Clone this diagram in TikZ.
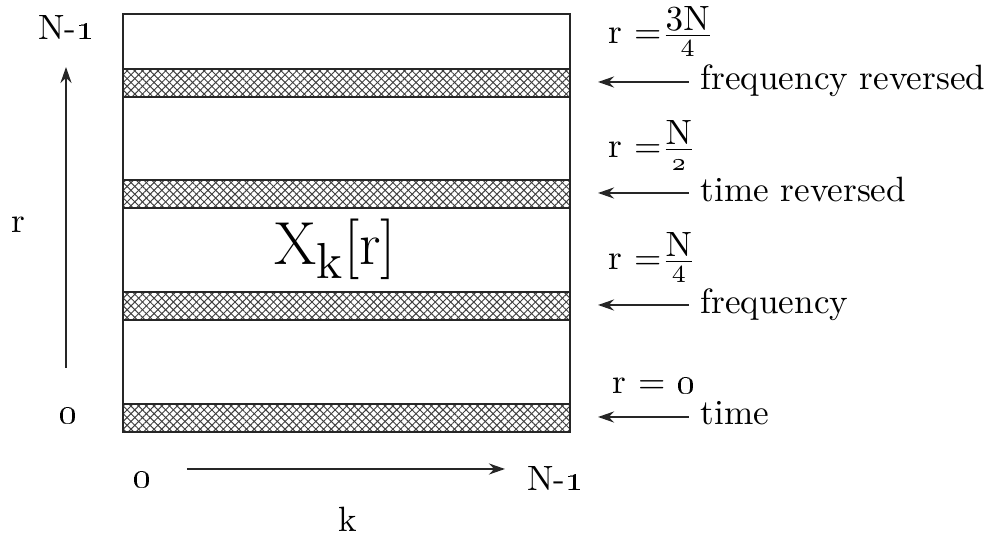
\documentclass[tikz,border=0pt]{standalone}
\usepackage{amsmath}
\usepackage{tikz}
\usetikzlibrary{arrows.meta, positioning, patterns.meta}
\tikzset{
  band/.style  ={draw=black!85, line width=0.7pt},
  hatchne/.style={pattern={Lines[angle=45, distance=1.55pt, line width=0.28pt]},
                  pattern color=black!75},
  hatchnw/.style={pattern={Lines[angle=-45, distance=1.55pt, line width=0.28pt]},
                  pattern color=black!75},
  arrow/.style ={-{Stealth[length=1.6mm, width=1.1mm]}, line width=0.7pt, black!85},
  lbl/.style   ={font=\normalsize, inner sep=0pt, text=black}
}
\newcommand{\osn}[1]{\oldstylenums{#1}}

\begin{document}
\begin{tikzpicture}[
  every node/.style={text=black},
  rlbl/.style={lbl, anchor=base west},
  tlbl/.style={lbl, anchor=base west}
]
\useasboundingbox (0,0) rectangle (9.89,5.37);

% hatched rows r = 0, N/4, N/2, 3N/4
\foreach \y/\n in {1.05/b0, 2.17/b1, 3.29/b2, 4.40/b3}{
  \path[hatchne] (1.23,\y) rectangle +(4.47,0.28);
  \path[hatchnw] (1.23,\y) rectangle +(4.47,0.28);
  \draw[band] (1.23,\y) rectangle +(4.47,0.28);
  \coordinate (\n) at (5.98,\y+0.15);
}
\node[band, minimum width=4.47cm, minimum height=4.18cm, inner sep=0pt]
      (grid) at (3.465,3.14) {};
\node[lbl, font=\LARGE] (xkr) at (3.35,2.88) {X$_{\text{\Large k}}$[r]};

% row labels
\node[tlbl] (t0) at (7.00,1.12) {time};
\node[tlbl] (t1) at (7.00,2.23) {frequency};
\node[tlbl] (t2) at (7.00,3.35) {time reversed};
\node[tlbl] (t3) at (7.00,4.47) {frequency reversed};
\node[rlbl] (r0) at (6.12,1.43) {r = \osn{0}};
\node[rlbl] (r1) at (6.08,2.67) {r =$\frac{\textstyle\mathrm{N}}{4}$};
\node[rlbl] (r2) at (6.08,3.79) {r =$\frac{\textstyle\mathrm{N}}{\mathnormal{2}}$};
\node[rlbl] (r3) at (6.08,4.93) {r =$\frac{\textstyle 3\mathrm{N}}{4}$};

\draw[arrow] ([xshift=-1.1mm]t0.west |- b0) -- (b0);
\draw[arrow] ([xshift=-1.1mm]t1.west |- b1) -- (b1);
\draw[arrow] ([xshift=-1.1mm]t2.west |- b2) -- (b2);
\draw[arrow] ([xshift=-1.1mm]t3.west |- b3) -- (b3);

% axes
\node[lbl] (rtop) at (0.66,5.09) {N-\osn{1}};
\node[lbl] (rbot) at (0.68,1.21) {\osn{0}};
\node[lbl] (rax)  at (0.18,3.12) {r};
\coordinate (ra) at (0.66,1.69);
\coordinate (rb) at (0.66,4.70);
\draw[arrow] (ra) -- (rb);

\node[lbl] (kbot) at (1.42,0.57) {\osn{0}};
\node[lbl] (ktop) at (5.55,0.58) {N-\osn{1}};
\node[lbl] (kax)  at (3.48,0.18) {k};
\coordinate (ka) at (1.87,0.68);
\coordinate (kb) at (5.05,0.68);
\draw[arrow] (ka) -- (kb);

\end{tikzpicture}
\end{document}
